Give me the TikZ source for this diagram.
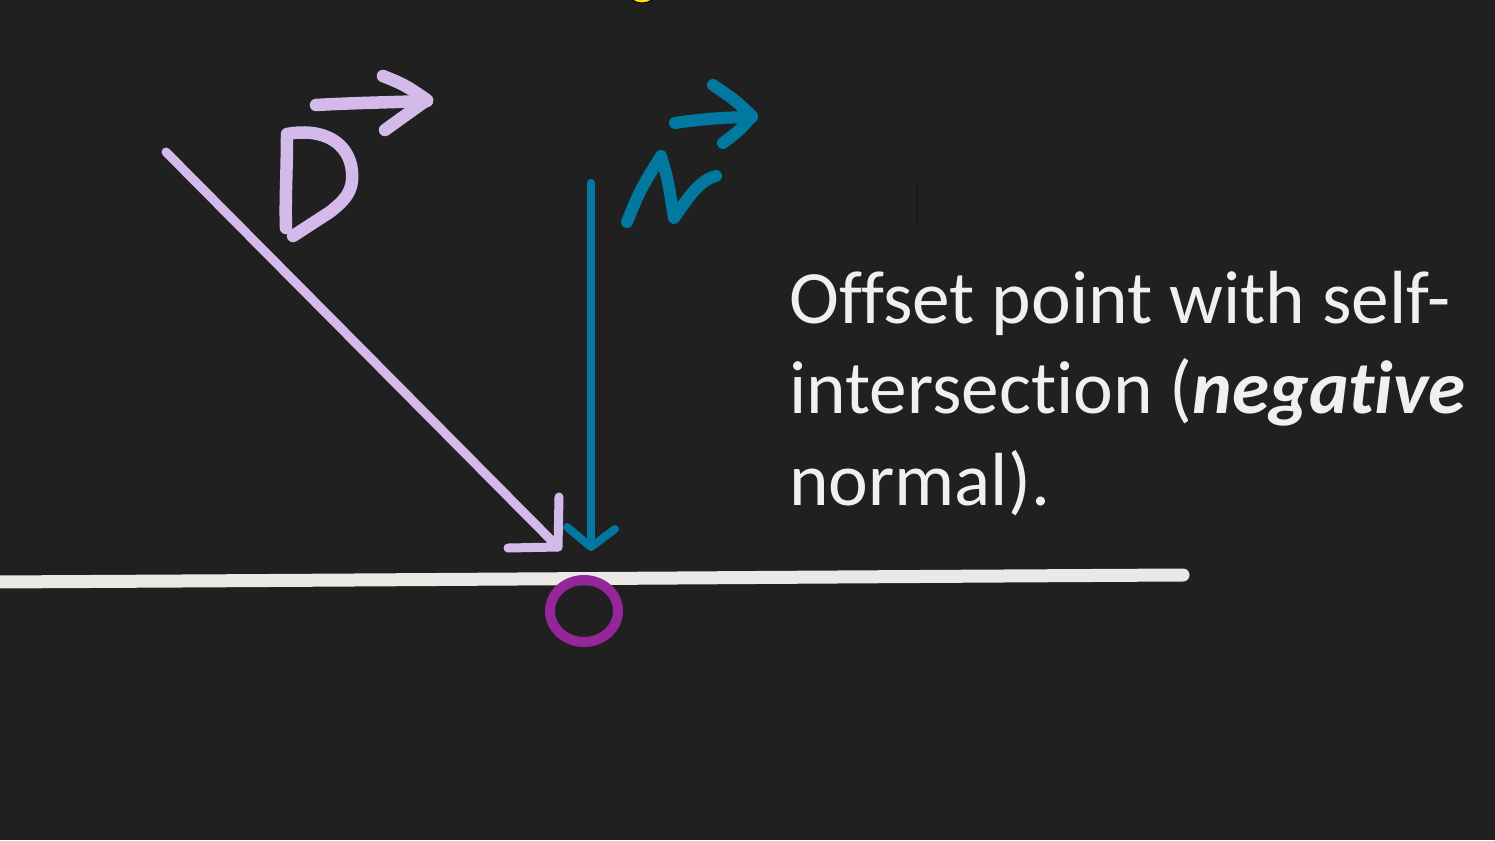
\documentclass[tikz,border=0pt]{standalone}
\usepackage{fontspec}
\setmainfont[Ligatures={TeX,NoCommon}]{Carlito}
\definecolor{bg}{HTML}{202020}
\definecolor{lav}{HTML}{D4BAEB}
\definecolor{nblue}{HTML}{00789F}
\definecolor{lineW}{HTML}{EBE9E6}
\definecolor{ring}{HTML}{95269A}
\definecolor{txt}{HTML}{F2F0EE}
\definecolor{yel}{HTML}{FFE000}
\tikzset{
  lavstroke/.style={draw=lav, line width=9pt, line cap=round, line join=round},
  lavpen/.style={draw=lav, line width=12.5pt, line cap=round, line join=round},
  bluestroke/.style={draw=nblue, line width=8pt, line cap=round, line join=round},
  bluepen/.style={draw=nblue, line width=12pt, line cap=round, line join=round},
  label/.style={anchor=base west, inner sep=0pt, text=txt, font=\fontsize{75.3}{92}\selectfont},
}
\begin{document}
\begin{tikzpicture}[x=1pt,y=-1pt]
\fill[bg] (0,0) rectangle (1495,840);
\useasboundingbox (0,0) rectangle (1495,840);
\clip (0,0) rectangle (1495,840);
% yellow blob at the top edge
\coordinate (ytop) at (642,-6);
\draw[fill=yel, draw=black, line width=1pt] (ytop) ellipse [x radius=13, y radius=9];
% coordinates
\coordinate (dS) at (166,152);
\coordinate (dE) at (558,547);
\coordinate (dH1) at (559,497);
\coordinate (dH2) at (508,548);
\coordinate (nS) at (591,183);
\coordinate (nE) at (591,547);
\coordinate (nH1) at (567,527);
\coordinate (nH2) at (615,529);
\coordinate (gL) at (-10,582);
\coordinate (gR) at (1183,575);
\coordinate (hit) at (584,611);
% ground line
\draw[draw=lineW, line width=13pt, line cap=round] (gL) .. controls (400,580) and (800,577) .. (gR);
% ring
\draw[draw=ring, line width=10pt] (hit) ellipse [x radius=34, y radius=31];
% direction D
\draw[lavstroke] (dS) -- (dE);
\draw[lavstroke] (dH1) -- (dE) -- (dH2);
% normal N
\draw[bluestroke] (nS) -- (nE);
\draw[bluestroke] (nH1) -- (nE) -- (nH2);
% letter D
\draw[lavpen] (287,135) .. controls (287,170) and (285,200) .. (286,228);
\draw[lavpen] (287,134) .. controls (320,128) and (345,140) .. (351,165)
  .. controls (356,190) and (345,200) .. (330,212) -- (293,236);
% arrow over D
\draw[lavpen] (316,105) .. controls (350,103) and (400,102) .. (427,101);
\draw[lavpen] (383,76) .. controls (405,85) .. (427,100) .. controls (410,112) .. (385,130);
% letter N
\draw[bluepen] (627,222) .. controls (640,190) .. (661,156) .. controls (668,180) .. (674,218)
  .. controls (690,195) and (700,180) .. (716,176);
% arrow over N
\draw[bluepen] (675,123) .. controls (700,119) and (730,117) .. (752,117);
\draw[bluepen] (713,85) .. controls (735,100) .. (752,116) .. controls (740,130) .. (723,143);
% faint cursor mark
\coordinate (cA) at (917,180);
\coordinate (cB) at (917,227);
\draw[draw=black!35!bg, line width=1pt] (cA) -- (cB);
% text
\node[label] (t1) at (789,323) {Offset point with self-};
\node[label] (t2) at (789,413) {intersection (\textbf{\textit{negative}}};
\node[label] (t3) at (789,505) {normal).};
\end{tikzpicture}
\end{document}
